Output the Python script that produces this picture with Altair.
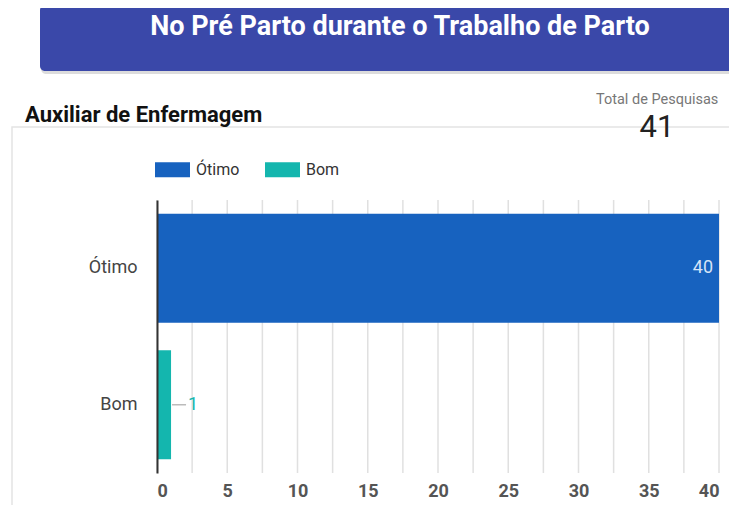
import altair as alt
import pandas as pd

categories = ["Ótimo", "Bom"]
values = [40, 1]
colors = ["#1762BF", "#14B6AE"]
label_colors = ["#D6E4F7", "#14B6AE"]
grid_values = [0, 2.5, 5, 7.5, 10, 12.5, 15, 17.5, 20, 22.5, 25, 27.5, 30, 32.5, 35, 37.5, 40]
label_values = [0, 5, 10, 15, 20, 25, 30, 35, 40]

title_text = "No Pré Parto durante o Trabalho de Parto"
subtitle_text = "Auxiliar de Enfermagem"
total_label = "Total de Pesquisas"
total_value = "41"

df = pd.DataFrame({"cat": categories, "value": values, "lblcolor": label_colors})
grid_df = pd.DataFrame({"g": grid_values})
FONT = "Roboto"

one = pd.DataFrame({"a": [0]})

# decorative background elements
card = alt.Chart(one).mark_rect(fill="white", fillOpacity=0, stroke="#e4e4e4", strokeWidth=1.5).encode(
    x=alt.value(-145), x2=alt.value(620), y=alt.value(-73), y2=alt.value(320))
shadow = alt.Chart(one).mark_rect(fill="#9a9a9a", opacity=0.35, cornerRadius=5).encode(
    x=alt.value(-116), x2=alt.value(620), y=alt.value(-190), y2=alt.value(-126))
banner = alt.Chart(one).mark_rect(fill="#3A48A9", cornerRadius=5).encode(
    x=alt.value(-117), x2=alt.value(620), y=alt.value(-195), y2=alt.value(-129))
title = alt.Chart(one).mark_text(text=title_text, font=FONT, fontSize=27, fontWeight="bold",
                                 color="white", align="center", baseline="middle").encode(
    x=alt.value(243), y=alt.value(-173))
sub = alt.Chart(one).mark_text(text=subtitle_text, font=FONT, fontSize=22, fontWeight="bold",
                               color="#111", align="left", baseline="middle").encode(
    x=alt.value(-132), y=alt.value(-85))
tot_l = alt.Chart(one).mark_text(text=total_label, font=FONT, fontSize=14.5,
                                 color="#777", align="left", baseline="middle").encode(
    x=alt.value(439), y=alt.value(-100))
tot_v = alt.Chart(one).mark_text(text=total_value, font=FONT, fontSize=31,
                                 color="#222", align="center", baseline="middle").encode(
    x=alt.value(500), y=alt.value(-72))

base = alt.Chart(df)

x_scale = alt.Scale(domain=[0, 40], nice=False)

grid = alt.Chart(grid_df).mark_rule(color="#e0e0e0", strokeWidth=1.5).encode(
    x=alt.X("g:Q", scale=x_scale, title=None))

y_enc = alt.Y("cat:N", sort=categories, title=None,
              scale=alt.Scale(paddingInner=0.2, paddingOuter=0.1),
              axis=alt.Axis(domain=True, domainColor="#333", domainWidth=2, ticks=False,
                            labelFont=FONT, labelFontSize=18,
                            labelColor="#444", labelPadding=20, grid=False, zindex=2))
x_enc = alt.X("value:Q", title=None, scale=x_scale,
              axis=alt.Axis(values=label_values, grid=False,
                            domain=False, ticks=False, labelFont=FONT, labelFontSize=18,
                            labelFontWeight="bold", labelColor="#555", labelPadding=9))

bars = base.mark_bar().encode(
    x=x_enc, y=y_enc,
    color=alt.Color("cat:N", scale=alt.Scale(domain=categories, range=colors),
                    legend=alt.Legend(orient="none", legendX=-2, legendY=-48,
                                      direction="horizontal", title=None,
                                      symbolType="M-1,-0.4286H1V0.4286H-1Z",
                                      symbolSize=1225, symbolStrokeWidth=0,
                                      symbolOpacity=1,
                                      labelFont=FONT, labelFontSize=16, labelColor="#333",
                                      labelOffset=6, columnPadding=25, padding=0)))

inside = base.transform_filter("datum.value >= 5").mark_text(
    align="right", baseline="middle", dx=-6, font=FONT, fontSize=18).encode(
    x="value:Q", y=alt.Y("cat:N", sort=categories), text="value:Q",
    color=alt.Color("lblcolor:N", scale=None))

leader = base.transform_filter("datum.value < 5").mark_rule(
    color="#bbbbbb", strokeWidth=1.5, xOffset=1, x2Offset=15).encode(
    x="value:Q", x2="value:Q", y=alt.Y("cat:N", sort=categories))

outside = base.transform_filter("datum.value < 5").mark_text(
    align="left", baseline="middle", dx=17, font=FONT, fontSize=18).encode(
    x="value:Q", y=alt.Y("cat:N", sort=categories), text="value:Q",
    color=alt.Color("lblcolor:N", scale=None))

chart = alt.layer(card, shadow, banner, title, sub, tot_l, tot_v,
                  grid, bars, inside, leader, outside).properties(
    width=562, height=273,
    autosize=alt.AutoSizeParams(type="none"),
    padding={"left": 149, "top": 192, "right": 10, "bottom": 32},
).configure_view(stroke=None)

chart.save("out.html", embed_options={"renderer": "svg", "actions": False})
